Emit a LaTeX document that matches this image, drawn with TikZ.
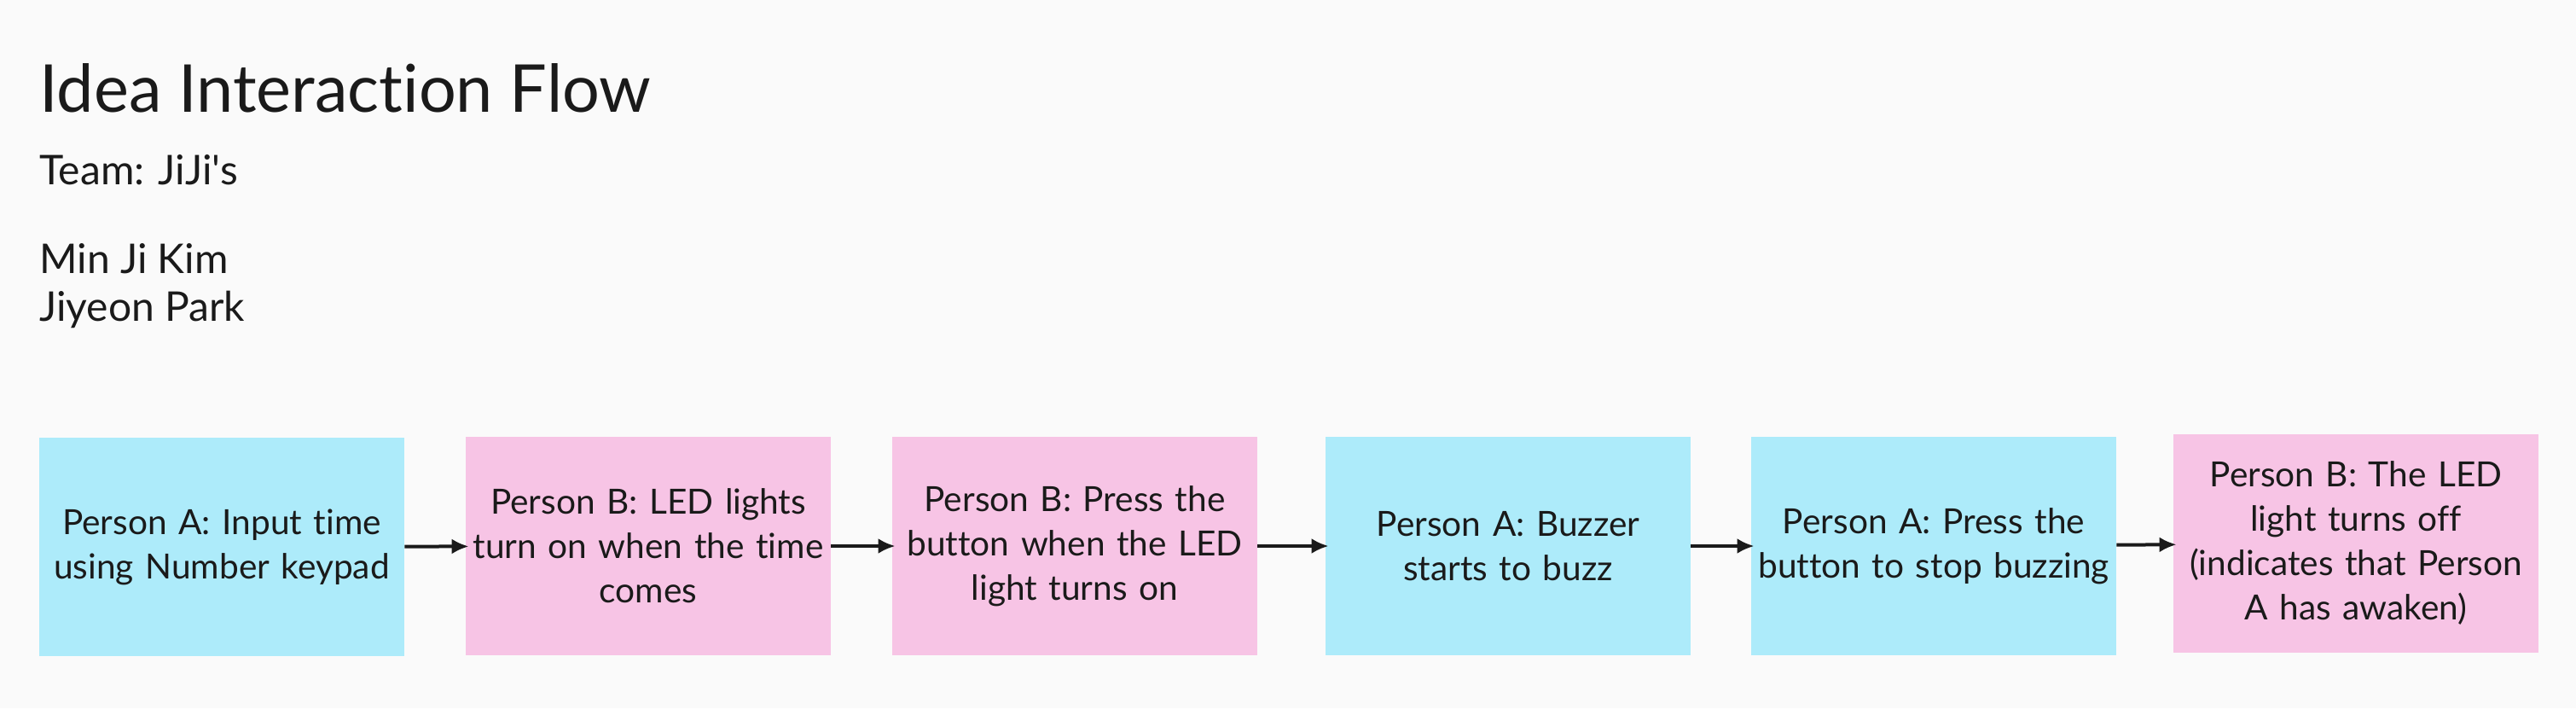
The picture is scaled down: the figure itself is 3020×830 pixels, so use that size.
\documentclass[tikz,border=0pt]{standalone}
\usepackage{fontspec}
\setmainfont{Lato}[Ligatures={TeXOff,NoCommon}]
\usetikzlibrary{arrows.meta}

\definecolor{personA}{HTML}{ADEBFA}
\definecolor{personB}{HTML}{F7C4E5}
\definecolor{canvas}{HTML}{FAFAFA}
\definecolor{ink}{HTML}{1A1A1A}

\tikzset{
    card/.style={minimum width=214pt, minimum height=128pt, inner sep=0pt,
        text width=206pt, align=center, text=ink,
        font=\fontsize{20.3}{26}\selectfont},
    cardA/.style={card, fill=personA},
    cardB/.style={card, fill=personB},
    flow/.style={-{Latex[length=10pt,width=9pt]}, line width=2pt, ink, shorten >=-2pt},
    heading/.style={anchor=base west, text=ink, inner sep=0pt}
}

\begin{document}
\begin{tikzpicture}[x=0.5pt,y=-0.5pt]
    % Background
    \fill[canvas] (0,0) rectangle (3020,830);

    % Title and team
    \node[heading, font=\fontsize{38.7}{46}\selectfont] (title) at (46,131) {Idea Interaction Flow};
    \node[heading, font=\fontsize{24}{28}\selectfont] (team) at (46,216) {Team: JiJi's};
    \node[heading, font=\fontsize{24}{28}\selectfont] (member1) at (46,320) {Min Ji Kim};
    \node[heading, font=\fontsize{24}{28}\selectfont] (member2) at (46,376) {Jiyeon Park};

    % Flow steps
    \node[cardA] (input)  at (260,641)  {Person A: Input time\\ using Number keypad};
    \node[cardB] (led)    at (760,640)  {Person B: LED lights\\ turn on when the time\\ comes};
    \node[cardB] (press)  at (1260,640) {Person B: Press the\\ button when the LED\\ light turns on};
    \node[cardA] (buzz)   at (1768,640) {Person A: Buzzer\\ starts to buzz};
    \node[cardA] (stop)   at (2267,640) {Person A: Press the\\ button to stop buzzing};
    \node[cardB] (off)    at (2762,637) {Person B: The LED\\ light turns off\\ (indicates that Person\\ A has awaken)};

    % Connectors
    \draw[flow] (input) -- (led);
    \draw[flow] (led) -- (press);
    \draw[flow] (press) -- (buzz);
    \draw[flow] (buzz) -- (stop);
    \draw[flow] (stop) -- (off);
\end{tikzpicture}
\end{document}
